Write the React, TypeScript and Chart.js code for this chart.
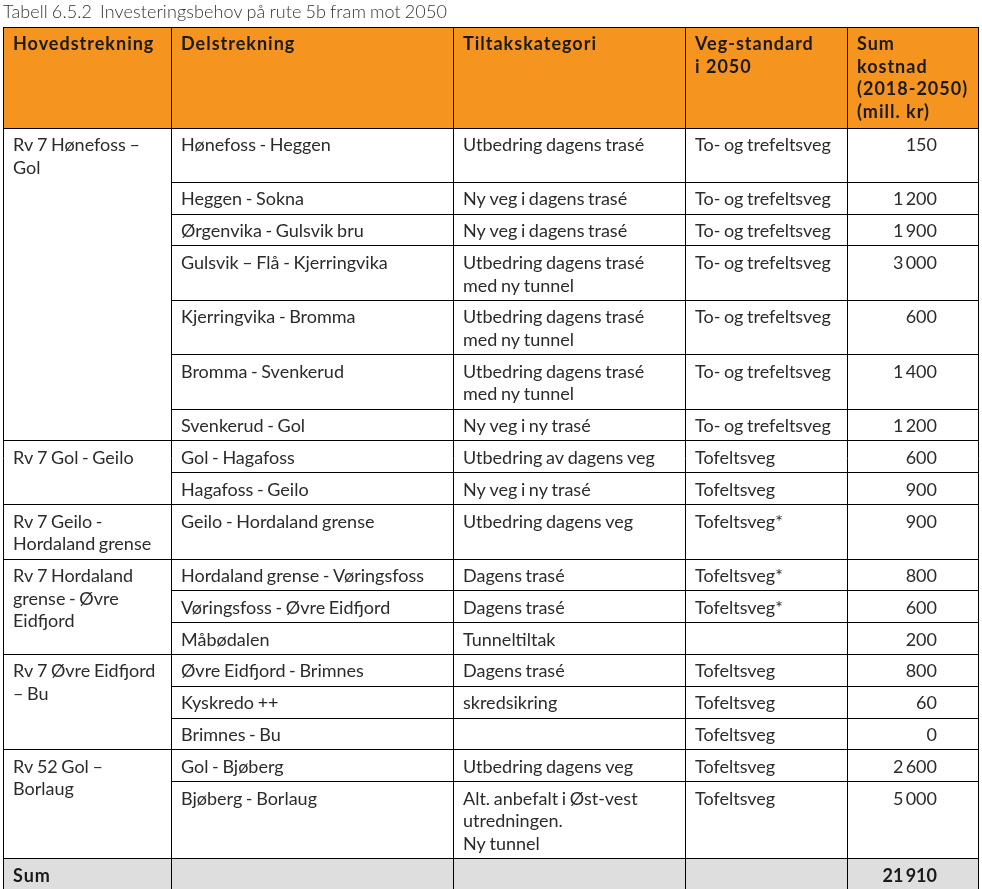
import React, { useEffect, useRef } from "react";
import { Chart, registerables } from "chart.js";

Chart.register(...registerables);

// ---------- data ----------
const TITLE = "Tabell 6.5.2  Investeringsbehov på rute 5b fram mot 2050";

const HEADERS = [
  "Hovedstrekning",
  "Delstrekning",
  "Tiltakskategori",
  "Veg-standard\ni 2050",
  "Sum\nkostnad\n(2018-2050)\n(mill. kr)",
];

const MAIN_SECTIONS = [
  "Rv 7 Hønefoss –\nGol",
  "Rv 7 Gol - Geilo",
  "Rv 7 Geilo -\nHordaland grense",
  "Rv 7 Hordaland\ngrense - Øvre\nEidfjord",
  "Rv 7 Øvre Eidfjord\n– Bu",
  "Rv 52 Gol –\nBorlaug",
];
const MAIN_SECTION_ROWS = [7, 2, 1, 3, 3, 2];

const SUB_SECTIONS = [
  "Hønefoss - Heggen",
  "Heggen - Sokna",
  "Ørgenvika - Gulsvik bru",
  "Gulsvik – Flå - Kjerringvika",
  "Kjerringvika - Bromma",
  "Bromma - Svenkerud",
  "Svenkerud - Gol",
  "Gol - Hagafoss",
  "Hagafoss - Geilo",
  "Geilo - Hordaland grense",
  "Hordaland grense - Vøringsfoss",
  "Vøringsfoss - Øvre Eidfjord",
  "Måbødalen",
  "Øvre Eidfjord - Brimnes",
  "Kyskredo ++",
  "Brimnes - Bu",
  "Gol - Bjøberg",
  "Bjøberg - Borlaug",
];

const MEASURES = [
  "Utbedring dagens trasé",
  "Ny veg i dagens trasé",
  "Ny veg i dagens trasé",
  "Utbedring dagens trasé\nmed ny tunnel",
  "Utbedring dagens trasé\nmed ny tunnel",
  "Utbedring dagens trasé\nmed ny tunnel",
  "Ny veg i ny trasé",
  "Utbedring av dagens veg",
  "Ny veg i ny trasé",
  "Utbedring dagens veg",
  "Dagens trasé",
  "Dagens trasé",
  "Tunneltiltak",
  "Dagens trasé",
  "skredsikring",
  "",
  "Utbedring dagens veg",
  "Alt. anbefalt i Øst-vest\nutredningen.\nNy tunnel",
];

const STANDARDS = [
  "To- og trefeltsveg",
  "To- og trefeltsveg",
  "To- og trefeltsveg",
  "To- og trefeltsveg",
  "To- og trefeltsveg",
  "To- og trefeltsveg",
  "To- og trefeltsveg",
  "Tofeltsveg",
  "Tofeltsveg",
  "Tofeltsveg*",
  "Tofeltsveg*",
  "Tofeltsveg*",
  "",
  "Tofeltsveg",
  "Tofeltsveg",
  "Tofeltsveg",
  "Tofeltsveg",
  "Tofeltsveg",
];

const COSTS = [150, 1200, 1900, 3000, 600, 1400, 1200, 600, 900, 900, 800, 600, 200, 800, 60, 0, 2600, 5000];

const SUM_LABEL = "Sum";

// ---------- layout (not data) ----------
const COL_EDGES = [0, 168, 450, 682, 844, 975];
const ROW_LINES = [2, 1, 1, 2, 2, 2, 1, 1, 1, 2, 1, 1, 1, 1, 1, 1, 1, 3];
const HEADER_H = 101;
const LINE_H = 22.6;
const ROW_PAD = 9.2;
const TEXT_PAD_X = 10;
const NUM_PAD_R = 41;
const BASELINE_OFF = 23;
const FONT = "Lato, 'Open Sans', sans-serif";
const ORANGE = "#F5951F";
const SUM_BG = "#DEDEDE";
const LINE_COLOR = "#000000";
const TEXT_COLOR = "#2b2b2b";

function fmt(n: number): string {
  const s = String(Math.round(n));
  if (s.length <= 3) return s;
  return s.replace(/\B(?=(\d{3})+(?!\d))/g, "\u2009");
}

const tablePlugin = {
  id: "tableCells",
  afterDraw(chart: any) {
    const ctx: any = chart.ctx;
    const xs = chart.scales.x;
    const ys = chart.scales.y;
    const px = (u: number) => xs.getPixelForValue(u);
    const py = (u: number) => ys.getPixelForValue(u);
    const crisp = (p: number) => Math.floor(p) + 0.5;

    const rowTops: number[] = [HEADER_H];
    for (let i = 0; i < ROW_LINES.length; i++) {
      rowTops.push(rowTops[i] + ROW_PAD + LINE_H * ROW_LINES[i]);
    }
    const sumTop = rowTops[ROW_LINES.length];
    const sumBottom = sumTop + ROW_PAD + LINE_H;

    const left = COL_EDGES[0];
    const right = COL_EDGES[COL_EDGES.length - 1];

    ctx.save();

    // title
    ctx.fillStyle = "#333333";
    ctx.font = `300 18px ${FONT}`;
    ctx.wordSpacing = "-1px";
    ctx.letterSpacing = "0.1px";
    ctx.textBaseline = "alphabetic";
    ctx.textAlign = "left";
    ctx.fillText(TITLE, px(left), py(0) - 9.5);

    // backgrounds
    ctx.fillStyle = ORANGE;
    ctx.fillRect(px(left), py(0), px(right) - px(left), py(HEADER_H) - py(0));
    ctx.fillStyle = SUM_BG;
    ctx.fillRect(px(left), py(sumTop), px(right) - px(left), py(sumBottom) - py(sumTop));

    // lines
    ctx.strokeStyle = LINE_COLOR;
    ctx.lineWidth = 1;
    const hline = (y: number, x0: number, x1: number) => {
      const yy = crisp(py(y));
      ctx.beginPath();
      ctx.moveTo(Math.floor(px(x0)), yy);
      ctx.lineTo(Math.floor(px(x1)) + 1, yy);
      ctx.stroke();
    };
    const vline = (x: number, y0: number, y1: number) => {
      const xx = crisp(px(x));
      ctx.beginPath();
      ctx.moveTo(xx, Math.floor(py(y0)));
      ctx.lineTo(xx, Math.floor(py(y1)) + 1);
      ctx.stroke();
    };

    hline(0, left, right);
    hline(HEADER_H, left, right);
    const groupStarts = new Set<number>();
    let acc = 0;
    MAIN_SECTION_ROWS.forEach((n) => {
      groupStarts.add(acc);
      acc += n;
    });
    for (let i = 1; i < ROW_LINES.length; i++) {
      hline(rowTops[i], groupStarts.has(i) ? left : COL_EDGES[1], right);
    }
    hline(sumTop, left, right);
    hline(sumBottom, left, right);
    COL_EDGES.forEach((e) => vline(e, 0, sumBottom));

    const drawCell = (text: string, col: number, top: number, bold: boolean, alignRight = false) => {
      if (!text) return;
      ctx.font = `${bold ? 700 : 400} 18px ${FONT}`;
      ctx.fillStyle = bold ? "#1a1a1a" : TEXT_COLOR;
      ctx.wordSpacing = bold ? "0px" : "-1px";
      ctx.letterSpacing = bold && !alignRight ? "1px" : "0px";
      ctx.textBaseline = "alphabetic";
      const lines = text.split("\n");
      lines.forEach((ln, k) => {
        const y = py(top) + BASELINE_OFF + k * LINE_H;
        if (alignRight) {
          ctx.textAlign = "right";
          ctx.fillText(ln, px(COL_EDGES[col + 1]) - NUM_PAD_R, y);
        } else {
          ctx.textAlign = "left";
          ctx.fillText(ln, px(COL_EDGES[col]) + TEXT_PAD_X, y);
        }
      });
    };

    HEADERS.forEach((h, c) => drawCell(h, c, 0, true));

    acc = 0;
    MAIN_SECTIONS.forEach((g, gi) => {
      drawCell(g, 0, rowTops[acc], false);
      acc += MAIN_SECTION_ROWS[gi];
    });

    for (let i = 0; i < SUB_SECTIONS.length; i++) {
      drawCell(SUB_SECTIONS[i], 1, rowTops[i], false);
      drawCell(MEASURES[i], 2, rowTops[i], false);
      drawCell(STANDARDS[i], 3, rowTops[i], false);
      drawCell(fmt(COSTS[i]), 4, rowTops[i], false, true);
    }

    const total = COSTS.reduce((a, b) => a + b, 0);
    drawCell(SUM_LABEL, 0, sumTop, true);
    drawCell(fmt(total), 4, sumTop, true, true);

    ctx.restore();
  },
};

export default function App() {
  const ref = useRef<HTMLCanvasElement | null>(null);
  useEffect(() => {
    if (!ref.current) return;
    const chart = new Chart(ref.current, {
      type: "scatter",
      data: { datasets: [] },
      options: {
        animation: false,
        responsive: false,
        maintainAspectRatio: false,
        devicePixelRatio: 1,
        layout: { padding: { top: 27, left: 3, right: 4, bottom: 0 } },
        plugins: {
          legend: { display: false },
          tooltip: { enabled: false },
          title: { display: false },
        },
        scales: {
          x: { type: "linear", min: 0, max: 975, display: false },
          y: { type: "linear", min: 0, max: 862, reverse: true, display: false },
        },
      },
      plugins: [tablePlugin],
    } as any);
    return () => chart.destroy();
  }, []);
  return (
    <div style={{ position: "absolute", left: 0, top: 0, width: 982, height: 889, background: "#fff" }}>
      <canvas ref={ref} width={982} height={889} style={{ display: "block" }} />
    </div>
  );
}
